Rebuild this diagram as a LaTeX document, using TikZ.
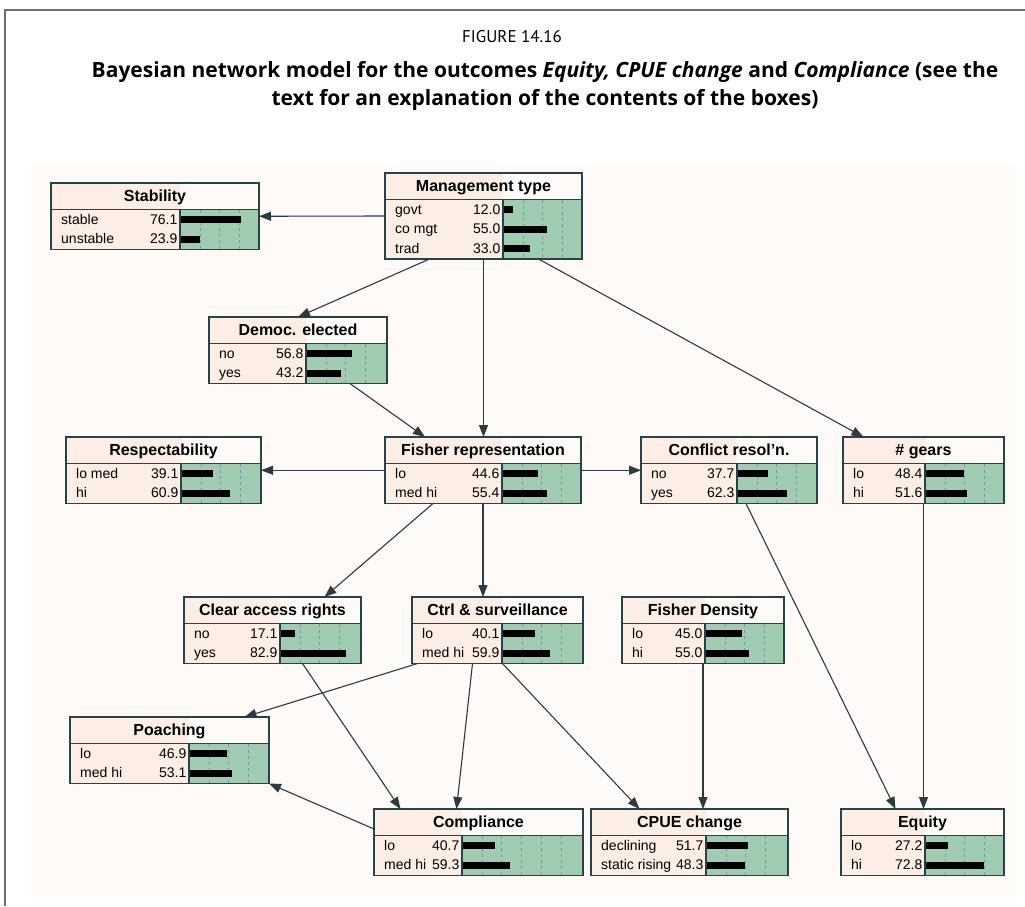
\documentclass[tikz,border=0pt]{standalone}
\usepackage{fontspec}
\setmainfont{Liberation Sans}
\newfontfamily\capfont{PT Sans}
\newfontfamily\ttlfont{Open Sans}
\usepackage{tikz}
\usetikzlibrary{positioning, arrows.meta, calc}
\definecolor{boxPeach}{RGB}{252,238,228}
\definecolor{barGreen}{RGB}{160,205,178}
\definecolor{boxEdge}{RGB}{38,66,74}
\definecolor{arcGray}{RGB}{44,58,66}
\definecolor{gridBlue}{RGB}{118,158,160}
\definecolor{shotBg}{RGB}{253,250,248}
\definecolor{frameGray}{RGB}{110,110,110}
\newcommand{\bnrow}{19.5}
% one network box: name, left, top, right, divider, rows, title, states
\newcommand{\bnbox}[8]{%
  \pgfmathsetmacro{\bnh}{26.5+#6*\bnrow+1}
  \node[bnframe, minimum width={(#4-#2)*1pt}, minimum height={\bnh*1pt}] (#1) at (#2,#3) {};
  \fill[boxPeach] (#1.north west) rectangle (#5,#3+\bnh);
  \fill[barGreen] (#5,#3+26.5) rectangle (#1.south east);
  \foreach \g in {19.75,39.5,...,160} {
    \pgfmathparse{(#5+\g < #4-4) ? 1 : 0}
    \ifnum\pgfmathresult=1
      \draw[gridln] (#5+\g,#3+26.5) -- (#5+\g,#3+\bnh);
    \fi
  }
  \node[headtxt] (#1-t) at ({(#2+#4)/2},#3+13.8) {#7};
  \foreach \st/\val [count=\i] in {#8} {
    \pgfmathsetmacro{\ry}{#3+27+(\i-0.5)*\bnrow}
    \node[statetxt] (#1-s\i) at (#2+10,\ry) {\st};
    \node[valtxt] (#1-v\i) at (#5-2.5,\ry) {\val};
    \fill[black] (#5+1,\ry-3.6) rectangle ({#5+1+0.79*\val},\ry+3.6);
  }
  \draw[boxline] (#1.north west) rectangle (#1.south east);
  \draw[boxline] (#2,#3+26.5) -- (#4,#3+26.5);
  \draw[boxline] (#5,#3+26.5) -- (#5,#3+\bnh);
}

\begin{document}
\begin{tikzpicture}[
  x=1pt, y=-1pt,
  bnframe/.style={anchor=north west, inner sep=0pt, outer sep=0pt},
  boxline/.style={draw=boxEdge, line width=1.4pt},
  gridln/.style={draw=gridBlue, dashed, line width=0.5pt},
  headtxt/.style={font=\bfseries\fontsize{16}{16}\selectfont, inner sep=0pt, text height=11.5pt, text depth=3pt},
  statetxt/.style={anchor=west, font=\fontsize{14}{14}\selectfont, inner sep=0pt, text height=10.5pt, text depth=1.5pt},
  valtxt/.style={statetxt, anchor=east},
  arc/.style={draw=arcGray, line width=1.1pt, -{Triangle[length=12pt,width=9pt]}},
]
  \useasboundingbox (0,0) rectangle (1025,906);
  \fill[white] (0,0) rectangle (1025,906);
  \draw[frameGray, line width=1.6pt] (5,906) -- (5,10) -- (1025,10);

  % caption
  \node[font=\capfont\fontsize{17}{20}\selectfont] (fignum) at (512,37) {FIGURE 14.16};
  \node[font=\ttlfont\bfseries\fontsize{21}{28}\selectfont, align=center] (figcap) at (545,86)
    {Bayesian network model for the outcomes \textit{Equity, CPUE change} and \textit{Compliance} (see the\\
     text for an explanation of the contents of the boxes)};

  % screenshot area
  \fill[shotBg] (33,165) rectangle (1017,897);

  % boxes
  \bnbox{stab}{51}{183}{259}{180}{2}{Stability}{stable/76.1, unstable/23.9}
  \bnbox{mgmt}{385}{173}{582}{503}{3}{Management type}{govt/12.0, co mgt/55.0, trad/33.0}
  \bnbox{democ}{209}{317}{387}{306}{2}{Democ. elected}{no/56.8, yes/43.2}
  \bnbox{resp}{66}{437}{261}{181}{2}{Respectability}{lo med/39.1, hi/60.9}
  \bnbox{fisher}{385}{437}{581}{502}{2}{Fisher representation}{lo/44.6, med hi/55.4}
  \bnbox{confl}{641}{437}{817}{737}{2}{Conflict resol'n.}{no/37.7, yes/62.3}
  \bnbox{gears}{843}{437}{1004}{925}{2}{\# gears}{lo/48.4, hi/51.6}
  \bnbox{clear}{184}{597}{361}{280}{2}{Clear access rights}{no/17.1, yes/82.9}
  \bnbox{ctrl}{412}{597}{583}{502}{2}{Ctrl \& surveillance}{lo/40.1, med hi/59.9}
  \bnbox{dens}{622}{597}{784}{705}{2}{Fisher Density}{lo/45.0, hi/55.0}
  \bnbox{poach}{70}{717}{269}{189}{2}{Poaching}{lo/46.9, med hi/53.1}
  \bnbox{compl}{374}{809}{583}{462}{2}{Compliance}{lo/40.7, med hi/59.3}
  \bnbox{cpue}{591}{809}{788}{706}{2}{CPUE change}{declining/51.7, static rising/48.3}
  \bnbox{equity}{841}{809}{1004}{925}{2}{Equity}{lo/27.2, hi/72.8}

  % links
  \draw[arc] (mgmt.west) -- (stab.east);
  \draw[arc] ([xshift=-54pt]mgmt.south) -- (democ.north);
  \draw[arc] (mgmt.south) -- (mgmt.south |- fisher.north);
  \draw[arc] ([xshift=55pt]mgmt.south) -- ([xshift=-60pt]gears.north);
  \draw[arc] ([xshift=52pt]democ.south) -- ([xshift=-58pt]fisher.north);
  \draw[arc] (fisher.west) -- (resp.east);
  \draw[arc] (fisher.east) -- (confl.west);
  \draw[arc] ([xshift=-50pt]fisher.south) -- ([xshift=52pt]clear.north);
  \draw[arc] (fisher.south) -- (fisher.south |- ctrl.north);
  \draw[arc] ([xshift=17pt]confl.south) -- ([xshift=-27pt]equity.north);
  \draw[arc] (gears.south) -- (gears.south |- equity.north);
  \draw[arc] (dens.south) -- (dens.south |- cpue.north);
  \draw[arc] ([xshift=30pt]clear.south) -- ([xshift=-78pt]compl.north);
  \draw[arc] ([xshift=-80pt]ctrl.south) -- ([xshift=75pt]poach.north);
  \draw[arc] ([xshift=-25pt]ctrl.south) -- ([xshift=-22pt]compl.north);
  \draw[arc] ([xshift=5pt]ctrl.south) -- ([xshift=-50pt]cpue.north);
  \draw[arc] ([yshift=-20pt]compl.north west) -- (poach.south east);
\end{tikzpicture}
\end{document}
